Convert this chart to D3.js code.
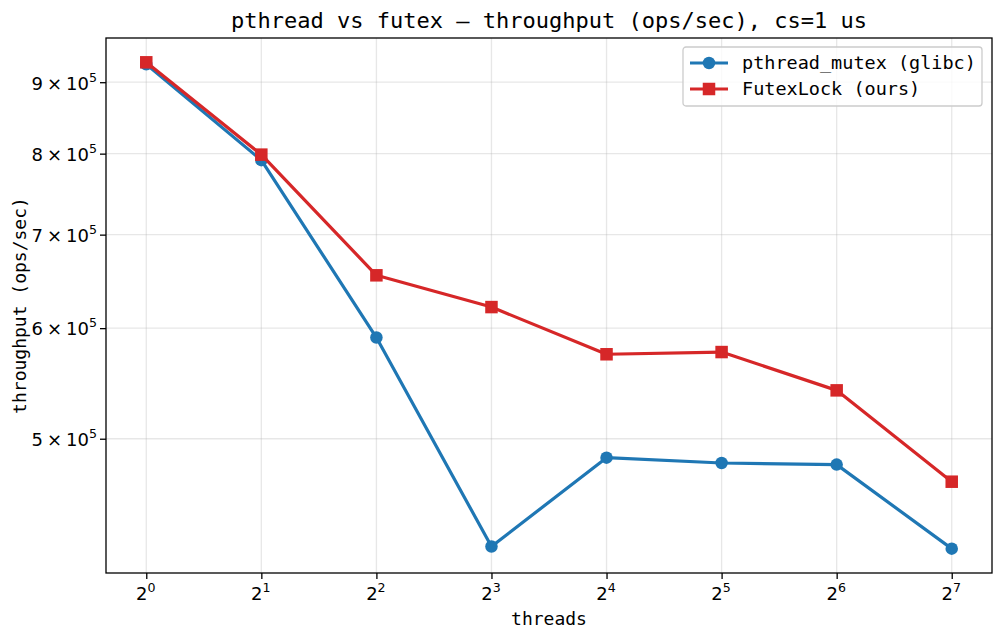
<!DOCTYPE html>
<html><head><meta charset="utf-8">
<script src="https://cdn.jsdelivr.net/npm/d3@7"></script>
<style>body{margin:0;background:#fff}svg{display:block}</style>
</head><body>
<script>
const threads = [1, 2, 4, 8, 16, 32, 64, 128];
const pthreadMutex = [927000, 791400, 590800, 418600, 484600, 480400, 479100, 417100];
const futexLock = [930000, 798700, 654600, 621200, 574700, 576800, 541500, 465800];
const yTicks = [500000, 600000, 700000, 800000, 900000];
const seriesNames = ["pthread_mutex (glibc)", "FutexLock (ours)"];
const titleText = "pthread vs futex \u2014 throughput (ops/sec), cs=1 us";

const W = 1004, H = 641;
const m = {left: 106, right: 992, top: 38, bottom: 573};
const mono = "'DejaVu Sans Mono', monospace";
const sans = "'DejaVu Sans', sans-serif";

const svg = d3.select("body").append("svg").attr("width", W).attr("height", H);

// x: log2 with 5% margins
const lx = d3.extent(threads).map(Math.log2);
const xm = (lx[1] - lx[0]) * 0.05;
const x = d3.scaleLog().base(2).domain([2 ** (lx[0] - xm), 2 ** (lx[1] + xm)]).range([m.left, m.right]);
const all = pthreadMutex.concat(futexLock);
const ly = d3.extent(all).map(Math.log10);
const ym = (ly[1] - ly[0]) * 0.05;
const y = d3.scaleLog().domain([10 ** (ly[0] - ym), 10 ** (ly[1] + ym)]).range([m.bottom, m.top]);

// grid
const g = svg.append("g");
g.selectAll(".gx").data(threads).join("line")
  .attr("x1", d => x(d)).attr("x2", d => x(d)).attr("y1", m.top).attr("y2", m.bottom)
  .attr("stroke", "#b0b0b0").attr("stroke-opacity", 0.3).attr("stroke-width", 1.3);
g.selectAll(".gy").data(yTicks).join("line")
  .attr("y1", d => y(d)).attr("y2", d => y(d)).attr("x1", m.left).attr("x2", m.right)
  .attr("stroke", "#b0b0b0").attr("stroke-opacity", 0.3).attr("stroke-width", 1.3);

// axes
const xAxis = d3.axisBottom(x).tickValues(threads).tickSize(6).tickFormat("");
const xg = svg.append("g").attr("transform", `translate(0,${m.bottom})`).call(xAxis);
xg.select(".domain").remove();
xg.selectAll(".tick line").attr("stroke", "#000").attr("stroke-width", 1.3);
xg.selectAll(".tick").append("text")
  .attr("y", 27).attr("x", -1).attr("fill", "#000").attr("text-anchor", "middle")
  .style("font-family", sans).style("font-size", "18px")
  .each(function(d) {
    const t = d3.select(this);
    t.append("tspan").text("2");
    t.append("tspan").attr("dy", -8).style("font-size", "12.6px").text(Math.round(Math.log2(d)));
  });

const yAxis = d3.axisLeft(y).tickValues(yTicks).tickSize(6).tickFormat("");
const yg = svg.append("g").attr("transform", `translate(${m.left},0)`).call(yAxis);
yg.select(".domain").remove();
yg.selectAll(".tick line").attr("stroke", "#000").attr("stroke-width", 1.3);
yg.selectAll(".tick").append("text")
  .attr("x", -9).attr("dy", "0.38em").attr("fill", "#000").attr("text-anchor", "end")
  .style("font-family", sans).style("font-size", "18px")
  .each(function(d) {
    const t = d3.select(this);
    const mant = Math.round(d / 1e5);
    t.append("tspan").text(mant);
    t.append("tspan").attr("dx", 4).text("\u00d7");
    t.append("tspan").attr("dx", 4).text("10");
    t.append("tspan").attr("dy", -8).style("font-size", "12.6px").text("5");
  });

// series
const series = [
  {name: seriesNames[0], vals: pthreadMutex, color: "#1f77b4", shape: "circle"},
  {name: seriesNames[1], vals: futexLock, color: "#d62728", shape: "square"}
];
const line = d3.line().x(d => x(d[0])).y(d => y(d[1]));
const ms = 12.5;
function marker(sel, s) {
  if (s.shape === "circle") {
    sel.append("circle").attr("r", ms / 2).attr("fill", s.color);
  } else {
    sel.append("rect").attr("x", -ms / 2).attr("y", -ms / 2).attr("width", ms).attr("height", ms).attr("fill", s.color);
  }
}
series.forEach(s => {
  const pts = threads.map((t, i) => [t, s.vals[i]]);
  svg.append("path").datum(pts).attr("d", line).attr("fill", "none")
    .attr("stroke", s.color).attr("stroke-width", 3.2).attr("stroke-linejoin", "round").attr("stroke-linecap", "square");
  pts.forEach(p => {
    const mg = svg.append("g").attr("transform", `translate(${x(p[0])},${y(p[1])})`);
    marker(mg, s);
  });
});

// frame
svg.append("rect").attr("x", m.left).attr("y", m.top).attr("width", m.right - m.left).attr("height", m.bottom - m.top)
  .attr("fill", "none").attr("stroke", "#000").attr("stroke-width", 1.3);

// title and labels
svg.append("text").attr("x", (m.left + m.right) / 2).attr("y", 28).attr("text-anchor", "middle")
  .style("font-family", mono).style("font-size", "22px").attr("fill", "#000").text(titleText);
svg.append("text").attr("x", (m.left + m.right) / 2).attr("y", 625).attr("text-anchor", "middle")
  .style("font-family", mono).style("font-size", "18px").attr("fill", "#000").text("threads");
svg.append("text").attr("transform", `translate(26,${(m.top + m.bottom) / 2}) rotate(-90)`).attr("text-anchor", "middle")
  .style("font-family", mono).style("font-size", "18px").attr("fill", "#000").text("throughput (ops/sec)");

// legend
const lg = svg.append("g").attr("transform", "translate(683,47)");
lg.append("rect").attr("width", 299).attr("height", 59).attr("rx", 3)
  .attr("fill", "#fff").attr("fill-opacity", 0.8).attr("stroke", "#cccccc").attr("stroke-width", 1.3);
series.forEach((s, i) => {
  const yy = 16 + i * 26;
  lg.append("line").attr("x1", 7).attr("x2", 45).attr("y1", yy).attr("y2", yy)
    .attr("stroke", s.color).attr("stroke-width", 3.2);
  const mg = lg.append("g").attr("transform", `translate(26,${yy})`);
  marker(mg, s);
  lg.append("text").attr("x", 59).attr("y", yy).attr("dy", "0.35em")
    .style("font-family", mono).style("font-size", "18.5px").attr("fill", "#000").text(s.name);
});
</script>
</body></html>
